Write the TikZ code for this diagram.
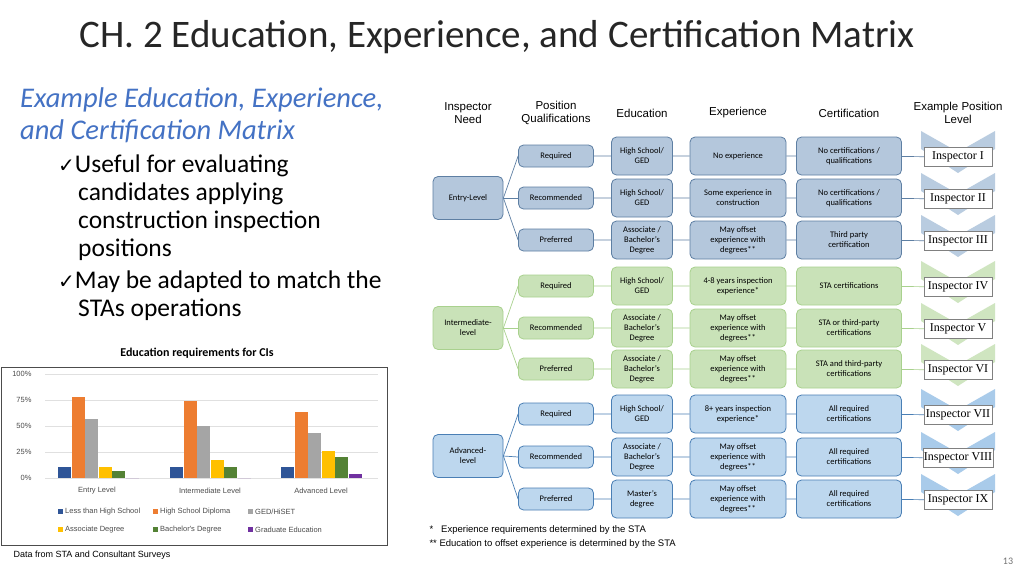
\documentclass[tikz,border=0pt]{standalone}
\usepackage{fontspec}
\setmainfont{Carlito}
\newfontfamily\libsans{Liberation Sans}
\newfontfamily\tmsserif{Liberation Serif}
\newfontfamily\djvsans{DejaVu Sans}
\definecolor{eFill}{HTML}{B4C7DC}\definecolor{eLine}{HTML}{5E7FA3}
\definecolor{iFill}{HTML}{C9E2B8}\definecolor{iLine}{HTML}{A9D18E}
\definecolor{aFill}{HTML}{BDD7EE}\definecolor{aLine}{HTML}{4A7FB5}
\definecolor{eChev}{HTML}{B9CCE0}\definecolor{iChev}{HTML}{CFE5C0}\definecolor{aChev}{HTML}{A9CBEA}
\definecolor{cBlue}{HTML}{2F5597}\definecolor{cOrange}{HTML}{ED7D31}\definecolor{cGray}{HTML}{A5A5A5}
\definecolor{cYellow}{HTML}{FFC000}\definecolor{cGreen}{HTML}{548235}\definecolor{cPurple}{HTML}{7030A0}
\definecolor{titleBlue}{HTML}{4472C4}
\tikzset{
 bx/.style={draw=#1Line,fill=#1Fill,rounded corners=5pt,align=center,inner sep=1pt,font=\fontsize{8.5}{10}\selectfont,line width=0.8pt},
 need/.style={bx=#1,minimum width=70pt,minimum height=43pt},
 posb/.style={bx=#1,minimum width=75pt,minimum height=22pt},
 edub/.style={bx=#1,minimum width=61pt,minimum height=38pt},
 expb/.style={bx=#1,minimum width=96pt,minimum height=38pt},
 certb/.style={bx=#1,minimum width=105pt,minimum height=38pt},
 insp/.style={draw=gray,fill=white,font=\tmsserif\fontsize{12}{13}\selectfont,minimum width=68pt,minimum height=19pt,inner sep=1pt},
 link/.style={draw=#1Line,line width=0.7pt},
 hdr/.style={font=\libsans\fontsize{11.5}{13}\selectfont,align=center},
 axl/.style={font=\libsans\fontsize{7.5}{9}\selectfont,text=black!70},
}
\newcommand\mrow[9]{% id, y, level, need, pos, edu, exp, cert, insp
 \fill[#3Chev] (921,#2-25)--(958,#2-4)--(995,#2-25)--(995,#2-7)--(958,#2+17)--(921,#2-7)--cycle;
 \node[posb=#3] (p#1) at (556,#2) {#5};
 \node[edub=#3] (e#1) at (642,#2) {#6};
 \node[expb=#3] (x#1) at (738,#2) {#7};
 \node[certb=#3] (c#1) at (849,#2) {#8};
 \node[insp] (i#1) at (958,#2+1) {#9};
 \draw[link=#3] (#4.east) -- (p#1.west);
 \draw[link=#3] (p#1) -- (e#1) (e#1) -- (x#1) (x#1) -- (c#1) (c#1) -- (i#1);
}
\begin{document}
\begin{tikzpicture}[x=1pt,y=-1pt]
\useasboundingbox (0,0) rectangle (1024,576);
\fill[white] (0,0) rectangle (1024,576);
\node[anchor=west,font=\fontsize{39}{42}\selectfont,text=black!85] (title) at (76,37) {CH. 2 Education, Experience, and Certification Matrix};
\node[anchor=north west,align=left,font=\itshape\fontsize{28.5}{32}\selectfont,text=titleBlue,inner sep=0] (sub) at (20,88) {Example Education, Experience,\\and Certification Matrix};
\node[anchor=north west,align=left,font=\fontsize{25.5}{28}\selectfont,inner sep=0] (b1) at (58,155) {{\djvsans\fontsize{20}{28}\selectfont ✓}Useful for evaluating\\\hspace*{20pt}candidates applying\\\hspace*{20pt}construction inspection\\\hspace*{20pt}positions};
\node[anchor=north west,align=left,font=\fontsize{25.5}{28}\selectfont,inner sep=0] (b2) at (58,271) {{\djvsans\fontsize{20}{28}\selectfont ✓}May be adapted to match the\\\hspace*{20pt}STAs operations};
% headers
\node[hdr] (h1) at (468,113) {Inspector\\Need};
\node[hdr] (h2) at (556,113) {Position\\Qualifications};
\node[hdr] (h3) at (642,113) {Education};
\node[hdr] (h4) at (738,113) {Experience};
\node[hdr] (h5) at (849,113) {Certification};
\node[hdr] (h6) at (958,113) {Example Position\\Level};
\node[need=e] (ne) at (468,198) {Entry-Level};
\node[need=i] (ni) at (468,328) {Intermediate-\\level};
\node[need=a] (na) at (468,456) {Advanced-\\level};
\mrow{1}{156}{e}{ne}{Required}{High School/\\GED}{No experience}{No certifications /\\qualifications}{Inspector I}
\mrow{2}{198}{e}{ne}{Recommended}{High School/\\GED}{Some experience in\\construction}{No certifications /\\qualifications}{Inspector II}
\mrow{3}{240}{e}{ne}{Preferred}{Associate /\\Bachelor's\\Degree}{May offset\\experience with\\degrees**}{Third party\\certification}{Inspector III}
\mrow{4}{286}{i}{ni}{Required}{High School/\\GED}{4-8 years inspection\\experience*}{STA certifications}{Inspector IV}
\mrow{5}{328}{i}{ni}{Recommended}{Associate /\\Bachelor's\\Degree}{May offset\\experience with\\degrees**}{STA or third-party\\certifications}{Inspector V}
\mrow{6}{369}{i}{ni}{Preferred}{Associate /\\Bachelor's\\Degree}{May offset\\experience with\\degrees**}{STA and third-party\\certifications}{Inspector VI}
\mrow{7}{414}{a}{na}{Required}{High School/\\GED}{8+ years inspection\\experience*}{All required\\certifications}{Inspector VII}
\mrow{8}{457}{a}{na}{Recommended}{Associate /\\Bachelor's\\Degree}{May offset\\experience with\\degrees**}{All required\\certifications}{Inspector VIII}
\mrow{9}{499}{a}{na}{Preferred}{Master's\\degree}{May offset\\experience with\\degrees**}{All required\\certifications}{Inspector IX}
\node[anchor=west,font=\libsans\fontsize{9.5}{11}\selectfont] (f1) at (426,530) {*\hspace{8pt}Experience requirements determined by the STA};
\node[anchor=west,font=\libsans\fontsize{9.5}{11}\selectfont] (f2) at (426,544) {** Education to offset experience is determined by the STA};
% chart
\node[font=\bfseries\fontsize{12}{14}\selectfont] (ct) at (197,353) {Education requirements for CIs};
\draw[black!70,line width=0.8pt] (1,367) rectangle (387,545);
\foreach \v/\lab in {0/0\%,25/25\%,50/50\%,75/75\%,100/100\%}{
 \draw[black!12] (45,478-1.04*\v) -- (378,478-1.04*\v);
 \node[axl,anchor=east] at (35,478-1.04*\v) {\lab};}
\foreach \x/\vals in {58/{11,78,57,11,7,0},170/{11,74,50,17,11,0},281/{11,63,43,26,20,4}}{
 \foreach \h [count=\k] in \vals {
  \ifcase\k\or\def\cc{cBlue}\or\def\cc{cOrange}\or\def\cc{cGray}\or\def\cc{cYellow}\or\def\cc{cGreen}\or\def\cc{cPurple}\fi
  \fill[\cc] (\x+13.6*\k-13.6,478) rectangle (\x+13.6*\k-0.6,478-1.04*\h);}}
\node[axl] (g1) at (97,491) {Entry Level};
\node[axl] (g2) at (210,491) {Intermediate Level};
\node[axl] (g3) at (321,491) {Advanced Level};
\foreach \px/\py/\cc/\lab in {58/512/cBlue/{Less than High School},153/512/cOrange/{High School Diploma},248/512/cGray/{GED/HiSET},58/530/cYellow/{Associate Degree},153/530/cGreen/{Bachelor's Degree},248/530/cPurple/{Graduate Education}}{
 \fill[\cc] (\px,\py-3) rectangle (\px+5,\py+2);
 \node[axl,anchor=west,inner sep=0] at (\px+7,\py) {\lab};}
\node[anchor=west,font=\libsans\fontsize{9}{11}\selectfont] (src) at (10,555) {Data from STA and Consultant Surveys};
\node[font=\fontsize{10}{12}\selectfont,text=black!55] (pg) at (1008,561) {13};
\end{tikzpicture}
\end{document}
